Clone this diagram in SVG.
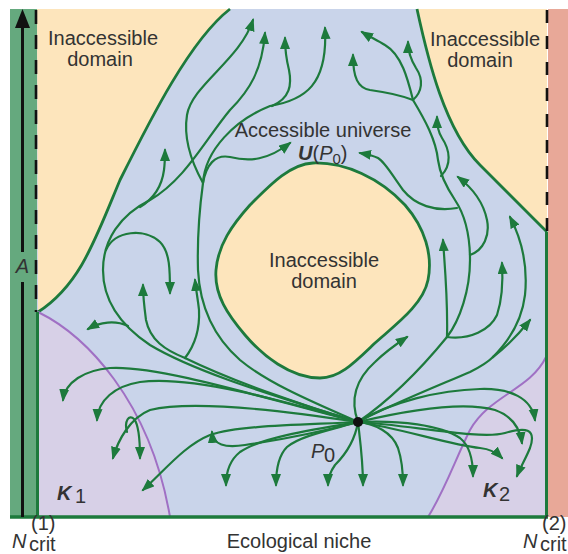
<svg xmlns="http://www.w3.org/2000/svg" width="568" height="554" viewBox="0 0 568 554">
  <defs>
    <style>
      .flow{fill:none;stroke:#1d7a3c;stroke-width:2.2;stroke-linecap:round;marker-end:url(#ah)}
      .trunk{fill:none;stroke:#1d7a3c;stroke-width:2.2;stroke-linecap:round}
      .edge{fill:none;stroke:#1d7a3c;stroke-width:2.8}
      .kline{fill:none;stroke:#a070c4;stroke-width:2}
      .lbl{font-family:"Liberation Sans",Arial,sans-serif;font-size:20px;fill:#333}
    </style>
    <marker id="ah" markerUnits="userSpaceOnUse" markerWidth="14" markerHeight="12" refX="11" refY="5" orient="auto">
      <path d="M0,0 L13,5 L0,10 Z" fill="#1d7a3c"/>
    </marker>
  </defs>

  <!-- regions of the niche plane -->
  <g id="regions">
    <rect x="37" y="9" width="510" height="508" fill="#c9d4ea"/>
    <path id="inaccessible-left" d="M37,9 L230,9 C190,40 150,120 120,180 C95,240 80,285 38,312 Z" fill="#fde5bc"/>
    <path id="inaccessible-right" d="M417,9 C428,60 445,130 480,165 C505,190 525,210 547,232 L547,9 Z" fill="#fde5bc"/>
    <path id="k1" d="M38,312 C85,335 150,400 170,517 L38,517 Z" fill="#d7d0e7"/>
    <path id="k2" d="M546,357 C530,390 490,395 470,430 C455,460 445,490 428,517 L546,517 Z" fill="#d7d0e7"/>
    <path id="inaccessible-center" d="M313,163 C345,162 380,178 405,205 C425,228 433,255 428,280 C423,305 395,325 375,343 C355,362 340,378 320,378 C290,378 262,355 245,335 C228,315 214,295 216,270 C218,245 232,225 250,205 C270,185 290,164 313,163 Z" fill="#fde5bc"/>
  </g>

  <!-- stripes at the critical population sizes -->
  <g id="stripes">
    <rect x="10" y="9" width="27" height="508" fill="#65a97e"/>
    <rect x="548" y="9" width="20" height="508" fill="#e8a898"/>
  </g>

  <!-- region boundaries -->
  <g id="boundaries">
    <path class="edge" d="M230,9 C190,40 150,120 120,180 C95,240 80,285 38,312"/>
    <path class="edge" d="M417,9 C428,60 445,130 480,165 C505,190 525,210 547,232"/>
    <path class="edge" d="M313,163 C345,162 380,178 405,205 C425,228 433,255 428,280 C423,305 395,325 375,343 C355,362 340,378 320,378 C290,378 262,355 245,335 C228,315 214,295 216,270 C218,245 232,225 250,205 C270,185 290,164 313,163 Z"/>
    <path class="kline" d="M38,312 C85,335 150,400 170,517"/>
    <path class="kline" d="M546,357 C530,390 490,395 470,430 C455,460 445,490 428,517"/>
    <line x1="37.5" y1="312" x2="37.5" y2="517" stroke="#1d7a3c" stroke-width="3"/>
    <line x1="546.5" y1="232" x2="546.5" y2="517" stroke="#1d7a3c" stroke-width="3"/>
    <line x1="10" y1="517" x2="548" y2="517" stroke="#1d7a3c" stroke-width="3.5"/>
    <line x1="36" y1="10" x2="36" y2="312" stroke="#111" stroke-width="2.6" stroke-dasharray="14 11"/>
    <line x1="547" y1="10" x2="547" y2="232" stroke="#111" stroke-width="2.6" stroke-dasharray="13 13"/>
  </g>

  <!-- vertical axis -->
  <g id="axis">
    <line x1="22.5" y1="517" x2="22.5" y2="282" stroke="#111" stroke-width="3"/>
    <line x1="22.5" y1="252" x2="22.5" y2="26" stroke="#111" stroke-width="3"/>
    <polygon points="22.5,9 15,28 30,28" fill="#111"/>
  </g>

  <!-- evolutionary trajectories starting at P0 -->
  <g id="connectors">
    <path class="trunk" d="M358,422 C320,405 270,385 240,360 C215,338 200,310 198,270 C197,235 200,205 203,183"/>
    <path class="flow" d="M203,183 C206,165 215,154 230,157 C250,162 268,160 290,143"/>
    <path class="flow" d="M203,183 C193,165 183,140 187,115 C192,85 240,60 253,20"/>
    <path class="flow" d="M203,183 C205,150 235,120 270,106 C305,100 328,85 325,28"/>
    <path class="flow" d="M272,106 C290,98 292,85 289,70 C286,58 285,50 285,38"/>
    <path class="flow" d="M358,422 C290,400 200,375 150,345 C120,325 103,300 103,270 C103,240 120,215 150,200 C185,180 205,140 230,110 C250,90 262,70 265,33"/>
    <path class="flow" d="M128,326 C115,320 100,322 88,329"/>
    <path class="flow" d="M106,250 C115,230 145,228 160,242 C170,252 170,270 170,293"/>
    <path class="flow" d="M140,207 C155,198 162,185 164,170 C165,162 165,156 165,150"/>
    <path class="trunk" d="M358,422 C300,405 230,380 185,358"/>
    <path class="flow" d="M185,358 C195,345 200,330 199,310 C198,300 196,290 195,280"/>
    <path class="flow" d="M185,358 C165,350 150,340 146,320 C144,305 143,295 143,285"/>
    <path class="flow" d="M358,422 C270,400 160,365 110,368 C85,370 65,382 63,400"/>
    <path class="flow" d="M358,422 C280,400 190,375 140,382 C115,386 98,400 97,420"/>
    <path class="flow" d="M358,422 C280,410 190,400 150,410 C130,418 118,440 113,458"/>
    <path class="flow" d="M127,432 C124,421 129,414 134,419 C139,425 140,442 140,458"/>
    <path class="flow" d="M358,422 C300,425 240,425 210,435 C185,445 165,470 143,490"/>
    <path class="flow" d="M358,422 C320,432 280,440 245,445 C225,448 213,445 212,432"/>
    <path class="flow" d="M358,422 C310,430 260,438 240,452 C230,460 226,472 226,485"/>
    <path class="flow" d="M358,422 C330,430 300,436 287,447 C278,456 276,470 276,485"/>
    <path class="flow" d="M358,422 C355,440 345,455 335,465 C330,472 328,478 328,485"/>
    <path class="flow" d="M358,422 C360,440 363,460 363,485"/>
    <path class="flow" d="M358,422 C375,424 392,432 398,448 C402,460 403,472 403,485"/>
    <path class="flow" d="M358,422 C400,420 440,425 460,438 C470,446 473,460 473,476"/>
    <path class="flow" d="M358,422 C400,428 450,445 480,448 C490,449 496,452 502,458"/>
    <path class="flow" d="M358,422 C410,425 480,440 505,433 C525,427 537,428 530,448 C526,458 520,468 517,476"/>
    <path class="flow" d="M358,422 C400,412 460,400 495,410 C512,416 520,428 522,443"/>
    <path class="flow" d="M358,422 C390,402 440,390 480,389 C510,388 532,398 535,420"/>
    <path class="flow" d="M358,422 C350,400 355,380 375,362 C385,352 395,345 407,337"/>
    <path class="trunk" d="M358,422 C390,400 420,370 447,337"/>
    <path class="flow" d="M447,337 C448,300 445,270 443,240"/>
    <path class="flow" d="M447,337 C470,340 490,330 497,315 C502,300 503,280 502,263"/>
    <path class="trunk" d="M447,337 C460,320 470,290 470,260 C470,235 465,215 455,200 C447,188 440,175 438,160 C436,140 425,120 413,100"/>
    <path class="flow" d="M413,100 C408,80 402,55 385,45 C377,40 370,37 362,32"/>
    <path class="flow" d="M413,100 C422,92 424,80 416,68 C411,60 408,52 408,42"/>
    <path class="flow" d="M413,100 C400,95 385,92 370,90 C358,88 353,78 353,55"/>
    <path class="flow" d="M441,176 C452,165 450,150 442,138 C438,132 437,125 437,117"/>
    <path class="flow" d="M457,208 C435,212 415,205 403,190 C392,175 385,162 378,158 C372,155 366,154 360,153"/>
    <path class="flow" d="M470,255 C484,250 490,235 487,220 C484,205 475,190 458,177"/>
    <path class="trunk" d="M358,422 C390,405 440,385 470,372 C480,367 488,362 493,357"/>
    <path class="flow" d="M493,357 C510,340 522,320 525,295 C528,265 522,240 510,217"/>
    <path class="flow" d="M493,357 C505,348 518,335 530,320"/>
  </g>

  <!-- starting point -->
  <g id="p0">
    <circle cx="358" cy="422" r="5" fill="#111"/>
    <text class="lbl" x="311" y="458" font-style="italic">P</text>
    <text class="lbl" x="324" y="462" font-size="15">0</text>
  </g>

  <!-- labels -->
  <g id="labels">
    <text class="lbl" x="103" y="45" text-anchor="middle">Inaccessible</text>
    <text class="lbl" x="100" y="66" text-anchor="middle">domain</text>
    <text class="lbl" x="485" y="46" text-anchor="middle">Inaccessible</text>
    <text class="lbl" x="480" y="67" text-anchor="middle">domain</text>
    <text class="lbl" x="324" y="267" text-anchor="middle">Inaccessible</text>
    <text class="lbl" x="324" y="288" text-anchor="middle">domain</text>
    <text class="lbl" x="323" y="137" text-anchor="middle">Accessible universe</text>
    <text class="lbl" x="298" y="160"><tspan font-weight="bold" font-style="italic">U</tspan>(<tspan font-style="italic">P</tspan><tspan font-size="15" dy="4">0</tspan><tspan dy="-4">)</tspan></text>
    <text class="lbl" x="22.5" y="273" text-anchor="middle" font-size="18" font-style="italic">A</text>
    <text class="lbl" x="299" y="548" text-anchor="middle">Ecological niche</text>
    <text class="lbl" x="57" y="500" font-size="18" font-weight="bold" font-style="italic">K</text>
    <text class="lbl" x="75" y="503" font-size="14">1</text>
    <text class="lbl" x="483" y="497" font-size="18" font-weight="bold" font-style="italic">K</text>
    <text class="lbl" x="499" y="501" font-size="14">2</text>
    <text class="lbl" x="12" y="548" font-size="20" font-style="italic">N</text>
    <text class="lbl" x="31" y="530" font-size="14">(1)</text>
    <text class="lbl" x="29" y="550.5" font-size="15">crit</text>
    <text class="lbl" x="523" y="548" font-size="20" font-style="italic">N</text>
    <text class="lbl" x="542" y="530" font-size="14">(2)</text>
    <text class="lbl" x="540" y="550.5" font-size="15">crit</text>
  </g>
</svg>
